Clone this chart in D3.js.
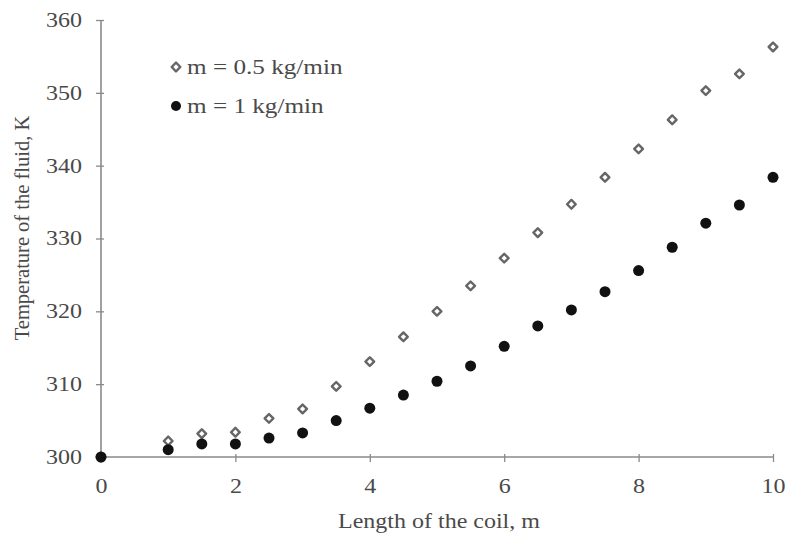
<!DOCTYPE html>
<html>
<head>
<meta charset="utf-8">
<script src="https://cdn.jsdelivr.net/npm/d3@7"></script>
<style>
  body { margin: 0; background: #fff; }
  svg text { font-family: "Liberation Serif", "DejaVu Serif", serif; fill: #4a4a4a; }
</style>
</head>
<body>
<svg id="chart" width="790" height="538"></svg>
<script>
const lengths = [0, 1, 1.5, 2, 2.5, 3, 3.5, 4, 4.5, 5, 5.5, 6, 6.5, 7, 7.5, 8, 8.5, 9, 9.5, 10];
const tempHalf = [300, 302.2, 303.2, 303.4, 305.3, 306.6, 309.7, 313.1, 316.5, 320.0, 323.5, 327.3, 330.8, 334.7, 338.4, 342.3, 346.3, 350.3, 352.6, 356.3];
const tempOne  = [300, 301.0, 301.8, 301.8, 302.6, 303.3, 305.0, 306.7, 308.5, 310.4, 312.5, 315.2, 318.0, 320.2, 322.7, 325.6, 328.8, 332.1, 334.6, 338.4];
const xTicks = [0, 2, 4, 6, 8, 10];
const yTicks = [300, 310, 320, 330, 340, 350, 360];
const seriesNames = ["m = 0.5 kg/min", "m = 1 kg/min"];

const SX = 1.2; // horizontal stretch of the reference's lettering
const svg = d3.select("#chart");
const x = d3.scaleLinear().domain([0, 10]).range([101, 773]);
const y = d3.scaleLinear().domain([300, 360]).range([457, 20]);
const axisColor = "#8a8a8a";

const yAxis = svg.append("g").attr("transform", `translate(${x(0)},0)`)
  .call(d3.axisLeft(y).tickValues(yTicks).tickSize(5).tickFormat(d3.format("d")));
const xAxis = svg.append("g").attr("transform", `translate(0,${y(300)})`)
  .call(d3.axisBottom(x).tickValues(xTicks).tickSize(5).tickFormat(d3.format("d")));

[yAxis, xAxis].forEach(g => {
  g.select(".domain").attr("stroke", axisColor).attr("stroke-width", 1.6);
  g.selectAll(".tick line").attr("stroke", axisColor).attr("stroke-width", 1.3);
  g.selectAll(".tick text").attr("font-size", 20).style("font-family", '"Liberation Serif", serif')
    .attr("fill", "#4a4a4a").attr("transform", `scale(${SX},1)`);
});
yAxis.select(".domain").attr("d", `M0,${y(360)}V${y(300)}`);
xAxis.select(".domain").attr("d", `M${x(0)},0H${x(10)}`);
yAxis.selectAll(".tick line").attr("x1", 3);
xAxis.selectAll(".tick line").attr("y1", -3);
yAxis.selectAll(".tick text").attr("x", -19 / SX);
xAxis.selectAll(".tick text").attr("y", 24).attr("dy", "0.6em");

// Axis titles
svg.append("text").attr("x", 439 / SX).attr("y", 528).attr("text-anchor", "middle")
  .attr("transform", `scale(${SX},1)`)
  .attr("font-size", 20).text("Length  of the coil, m");
svg.append("text").attr("transform", "translate(29,228) rotate(-90)").attr("text-anchor", "middle")
  .attr("font-size", 20.5).text("Temperature of the fluid, K");

const diamond = d3.symbol().type(d3.symbolSquare).size(38);

svg.append("g").selectAll("path").data(lengths.map((l, i) => [l, tempHalf[i]])).join("path")
  .attr("d", diamond)
  .attr("transform", d => `translate(${x(d[0])},${y(d[1])}) rotate(45)`)
  .attr("fill", "#fff").attr("stroke", "#666").attr("stroke-width", 2.4).attr("stroke-linejoin", "round");

svg.append("g").selectAll("circle").data(lengths.map((l, i) => [l, tempOne[i]])).join("circle")
  .attr("cx", d => x(d[0])).attr("cy", d => y(d[1])).attr("r", 5.5)
  .attr("fill", "#111");

// Legend
const leg = svg.append("g");
leg.append("path").attr("d", diamond).attr("transform", "translate(176,67) rotate(45)")
  .attr("fill", "#fff").attr("stroke", "#666").attr("stroke-width", 2.4).attr("stroke-linejoin", "round");
leg.append("text").attr("x", 187 / SX).attr("y", 74).attr("transform", `scale(${SX},1)`)
  .attr("font-size", 21).text(seriesNames[0]);
leg.append("circle").attr("cx", 176).attr("cy", 106).attr("r", 5).attr("fill", "#111");
leg.append("text").attr("x", 187 / SX).attr("y", 113).attr("transform", `scale(${SX},1)`)
  .attr("font-size", 21).text(seriesNames[1]);
</script>
</body>
</html>
